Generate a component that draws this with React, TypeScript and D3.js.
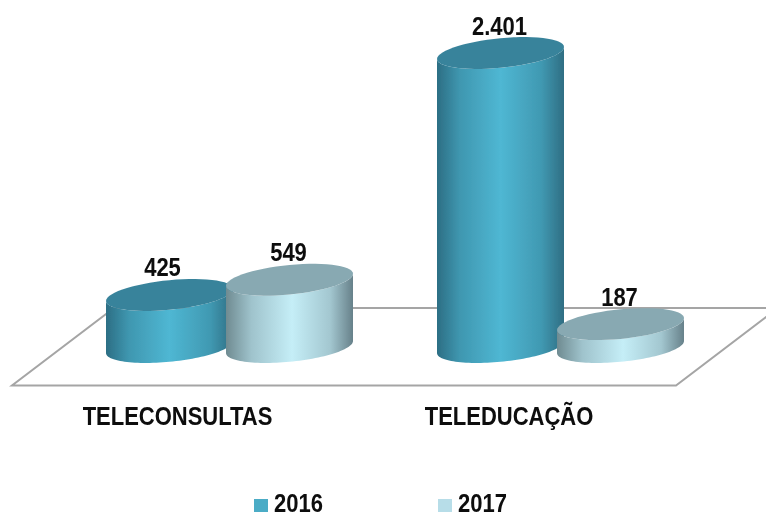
import React from "react";
import * as d3 from "d3";

const categories = ["TELECONSULTAS", "TELEDUCAÇÃO"];
const seriesNames = ["2016", "2017"];
const values2016 = [425, 2401];
const values2017 = [549, 187];
const valueLabels2016 = ["425", "2.401"];
const valueLabels2017 = ["549", "187"];

const W = 766, H = 513;
const FONT = "'Liberation Sans',Arial,sans-serif";
const A = 63.5, B = 14.8, SHEAR = 6 / 63.5;
const NARROW = 0.88;

const x0 = d3.scaleBand<string>().domain(categories).range([169.5, 831.5]);
const x1 = d3.scaleBand<string>().domain(seriesNames).range([0, 240]);
const y = d3.scaleLinear().domain([0, 2401]).range([347, 53]);
const line = d3.line<[number, number]>();

const pt = (cx: number, cy: number, t: number): [number, number] => [
  cx + A * Math.cos(t),
  cy - SHEAR * A * Math.cos(t) + B * Math.sin(t),
];
const angles = (from: number, to: number) => d3.range(0, 61).map((i) => from + ((to - from) * i) / 60);

const bodyPath = (cx: number, top: number, base: number) =>
  line([
    ...angles(Math.PI, 0).map((t) => pt(cx, base, t)),
    ...angles(0, Math.PI).map((t) => pt(cx, top, t)),
  ]) + "Z";
const capPath = (cx: number, cy: number) =>
  line(angles(0, Math.PI * 2).map((t) => pt(cx, cy, t))) + "Z";

const styles = [
  { grad: "g2016", cap: "#38839b", swatch: "#4bacc6" },
  { grad: "g2017", cap: "#88a9b2", swatch: "#b7dde8" },
];

const marks = categories.flatMap((c, ci) =>
  seriesNames.map((s, si) => ({
    key: c + s,
    cx: (x0(c) as number) + (x1(s) as number),
    v: si === 0 ? values2016[ci] : values2017[ci],
    label: si === 0 ? valueLabels2016[ci] : valueLabels2017[ci],
    si,
    nudge: ci === 0 && si === 0 ? -7 : -1,
  }))
);

function Label({ x, y: ty, anchor, children }: { x: number; y: number; anchor: string; children: React.ReactNode }) {
  return (
    <text
      transform={`translate(${x},${ty}) scale(${NARROW},1)`}
      textAnchor={anchor}
      fontFamily={FONT}
      fontWeight={700}
      fontSize={25}
      fill="#0a0a0a"
    >
      {children}
    </text>
  );
}

export default function App() {
  return (
    <svg
      width={W}
      height={H}
      viewBox={`0 0 ${W} ${H}`}
      style={{ position: "absolute", left: 0, top: 0, background: "#fff" }}
    >
      <defs>
        <filter id="soft" x="-5%" y="-5%" width="110%" height="110%">
          <feGaussianBlur stdDeviation="0.45" />
        </filter>
        <linearGradient id="g2016" x1="0" x2="1" y1="0" y2="0">
          <stop offset="0" stopColor="#2c6e84" />
          <stop offset="0.18" stopColor="#3f97b0" />
          <stop offset="0.5" stopColor="#4fb7d3" />
          <stop offset="0.82" stopColor="#4099b2" />
          <stop offset="1" stopColor="#2f6e83" />
        </linearGradient>
        <linearGradient id="g2017" x1="0" x2="1" y1="0" y2="0">
          <stop offset="0" stopColor="#6f8b91" />
          <stop offset="0.2" stopColor="#9fc3cc" />
          <stop offset="0.52" stopColor="#c5eef7" />
          <stop offset="0.82" stopColor="#a3c7d0" />
          <stop offset="1" stopColor="#67818a" />
        </linearGradient>
      </defs>
      <g filter="url(#soft)">
        <path
          d="M12,385.5L676,385.5L778,308L114,308Z"
          fill="#fff"
          stroke="#a5a5a5"
          strokeWidth={2}
        />
        {marks.map((m) => {
          const top = y(m.v);
          const base = y(0);
          const st = styles[m.si];
          return (
            <g key={m.key}>
              <path d={bodyPath(m.cx, top, base)} fill={`url(#${st.grad})`} />
              <path d={capPath(m.cx, top)} fill={st.cap} />
            </g>
          );
        })}
        {marks.map((m) => (
          <Label key={m.key + "l"} x={m.cx + m.nudge} y={y(m.v) - 18.5} anchor="middle">
            {m.label}
          </Label>
        ))}
        {categories.map((c, i) => (
          <Label key={c} x={[177.5, 509][i]} y={425} anchor="middle">
            {c}
          </Label>
        ))}
        {seriesNames.map((s, i) => (
          <g key={s}>
            <rect x={254 + i * 184} y={499} width={14} height={13} fill={styles[i].swatch} />
            <Label x={274 + i * 184} y={511.5} anchor="start">
              {s}
            </Label>
          </g>
        ))}
      </g>
    </svg>
  );
}
